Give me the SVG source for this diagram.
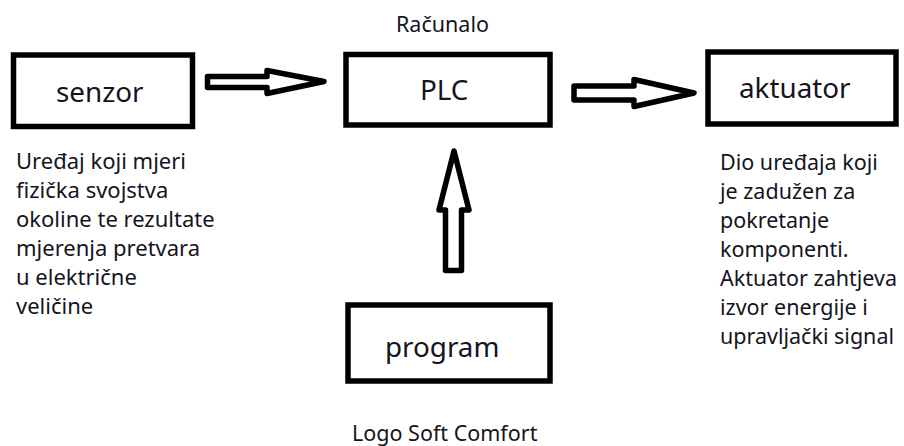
<svg xmlns="http://www.w3.org/2000/svg" width="904" height="446" viewBox="0 0 904 446">
<style>
text{font-family:"Noto Sans","Open Sans","Liberation Sans",sans-serif;fill:#14141e}
.box{fill:#fff;stroke:#000;stroke-width:5.5}
.arrow{fill:#fff;stroke:#000;stroke-width:5.5;stroke-linejoin:round}
.title{font-size:27.800px}
.note{font-size:21.500px}
.left{font-size:22px}
</style>
<rect width="904" height="446" fill="#fff"/>
<g id="connectors">
<path class="arrow" d="M207.500 76.500H267V70.500L324 81.500L267 93.500V87.500H207.500Z"/>
<path class="arrow" d="M574 86H634V79.500L694 93L634 106.500V100H574Z"/>
<path class="arrow" d="M445.500 270.500V210H439L454 151L469 210H461.500V270.500Z"/>
</g>
<g id="senzor">
<rect class="box" x="13.500" y="55" width="179" height="71.500"/>
<text class="title" x="56" y="102">senzor</text>
<text class="note left"><tspan x="16" y="169">Uređaj koji mjeri</tspan><tspan x="16" y="198">fizička svojstva</tspan><tspan x="16" y="227">okoline te rezultate</tspan><tspan x="16" y="256">mjerenja pretvara</tspan><tspan x="16" y="285">u električne</tspan><tspan x="16" y="314">veličine</tspan></text>
</g>
<g id="plc">
<rect class="box" x="346" y="54.500" width="204" height="70.500"/>
<text class="title" x="420" y="100">PLC</text>
<text class="note" x="396" y="32">Računalo</text>
</g>
<g id="aktuator">
<rect class="box" x="708" y="52" width="188" height="72"/>
<text class="title" x="739" y="98">aktuator</text>
<text class="note"><tspan x="720" y="170">Dio uređaja koji</tspan><tspan x="720" y="199">je zadužen za</tspan><tspan x="720" y="228">pokretanje</tspan><tspan x="720" y="257">komponenti.</tspan><tspan x="720" y="286">Aktuator zahtjeva</tspan><tspan x="720" y="315">izvor energije i</tspan><tspan x="720" y="344">upravljački signal</tspan></text>
</g>
<g id="program">
<rect class="box" x="348" y="305" width="202" height="76"/>
<text class="title" x="385" y="357">program</text>
<text class="note" x="352" y="441">Logo Soft Comfort</text>
</g>
</svg>
